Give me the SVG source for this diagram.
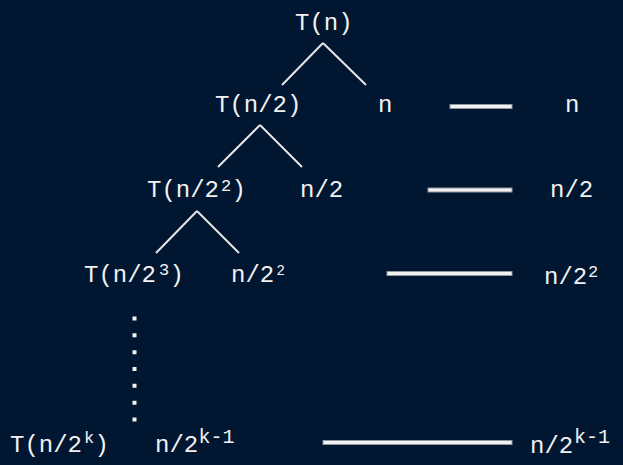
<svg xmlns="http://www.w3.org/2000/svg" width="623" height="465" viewBox="0 0 623 465">
<style>
text{font-family:"Liberation Mono","DejaVu Sans Mono",monospace;font-size:24px;fill:#f2f2f2}
.sup{font-size:17px}
.supk{font-size:20px}
.sm{font-size:14px}
.edge{stroke:#e6e6e6;stroke-width:2;fill:none}
.bar{fill:#f2f2f2;stroke:#8e96a0;stroke-width:1}
</style>
<rect width="623" height="465" fill="#011731"/>
<g id="connectors">
<line class="edge" x1="323" y1="43" x2="282" y2="85"/>
<line class="edge" x1="323" y1="43" x2="366" y2="85"/>
<line class="edge" x1="260" y1="125" x2="218" y2="167"/>
<line class="edge" x1="260" y1="125" x2="302" y2="167"/>
<line class="edge" x1="197" y1="211" x2="156" y2="253"/>
<line class="edge" x1="197" y1="211" x2="239" y2="253"/>
<line x1="134.5" y1="316.5" x2="134.5" y2="422" stroke="#f2f2f2" stroke-width="4" stroke-dasharray="4 12.83"/>
</g>
<g id="bars">
<rect class="bar" x="450" y="104.5" width="62" height="4"/>
<rect class="bar" x="428" y="188" width="84" height="4"/>
<rect class="bar" x="387" y="271.5" width="125" height="4"/>
<rect class="bar" x="323" y="440.5" width="189" height="4"/>
</g>
<g id="n-root"><text x="295" y="30">T(n)</text></g>
<g id="n-t2"><text x="215" y="112">T(n/2)</text></g>
<g id="n-c1"><text x="378" y="112">n</text></g>
<g id="n-s1"><text x="565" y="112">n</text></g>
<g id="n-t4"><text x="147" y="197">T(n/2<tspan class="sup" x="221" y="191">2</tspan><tspan x="231.5" y="197">)</tspan></text></g>
<g id="n-c2"><text x="300" y="197">n/2</text></g>
<g id="n-s2"><text x="550" y="197">n/2</text></g>
<g id="n-t8"><text x="84" y="282">T(n/2<tspan class="sup" x="159" y="275">3</tspan><tspan x="169.5" y="282">)</tspan></text></g>
<g id="n-c3"><text x="231" y="282">n/2<tspan class="sm" x="276.5" y="275">2</tspan></text></g>
<g id="n-s3"><text x="544" y="284">n/2<tspan class="sup" x="588" y="277">2</tspan></text></g>
<g id="n-tk"><text x="10" y="452">T(n/2<tspan class="sup" x="84" y="443">k</tspan><tspan x="94.5" y="452">)</tspan></text></g>
<g id="n-ck"><text x="155" y="452">n/2<tspan class="supk" x="198.5" y="443">k-1</tspan></text></g>
<g id="n-sk"><text x="530" y="453">n/2<tspan class="supk" x="574" y="443">k-1</tspan></text></g>
</svg>
